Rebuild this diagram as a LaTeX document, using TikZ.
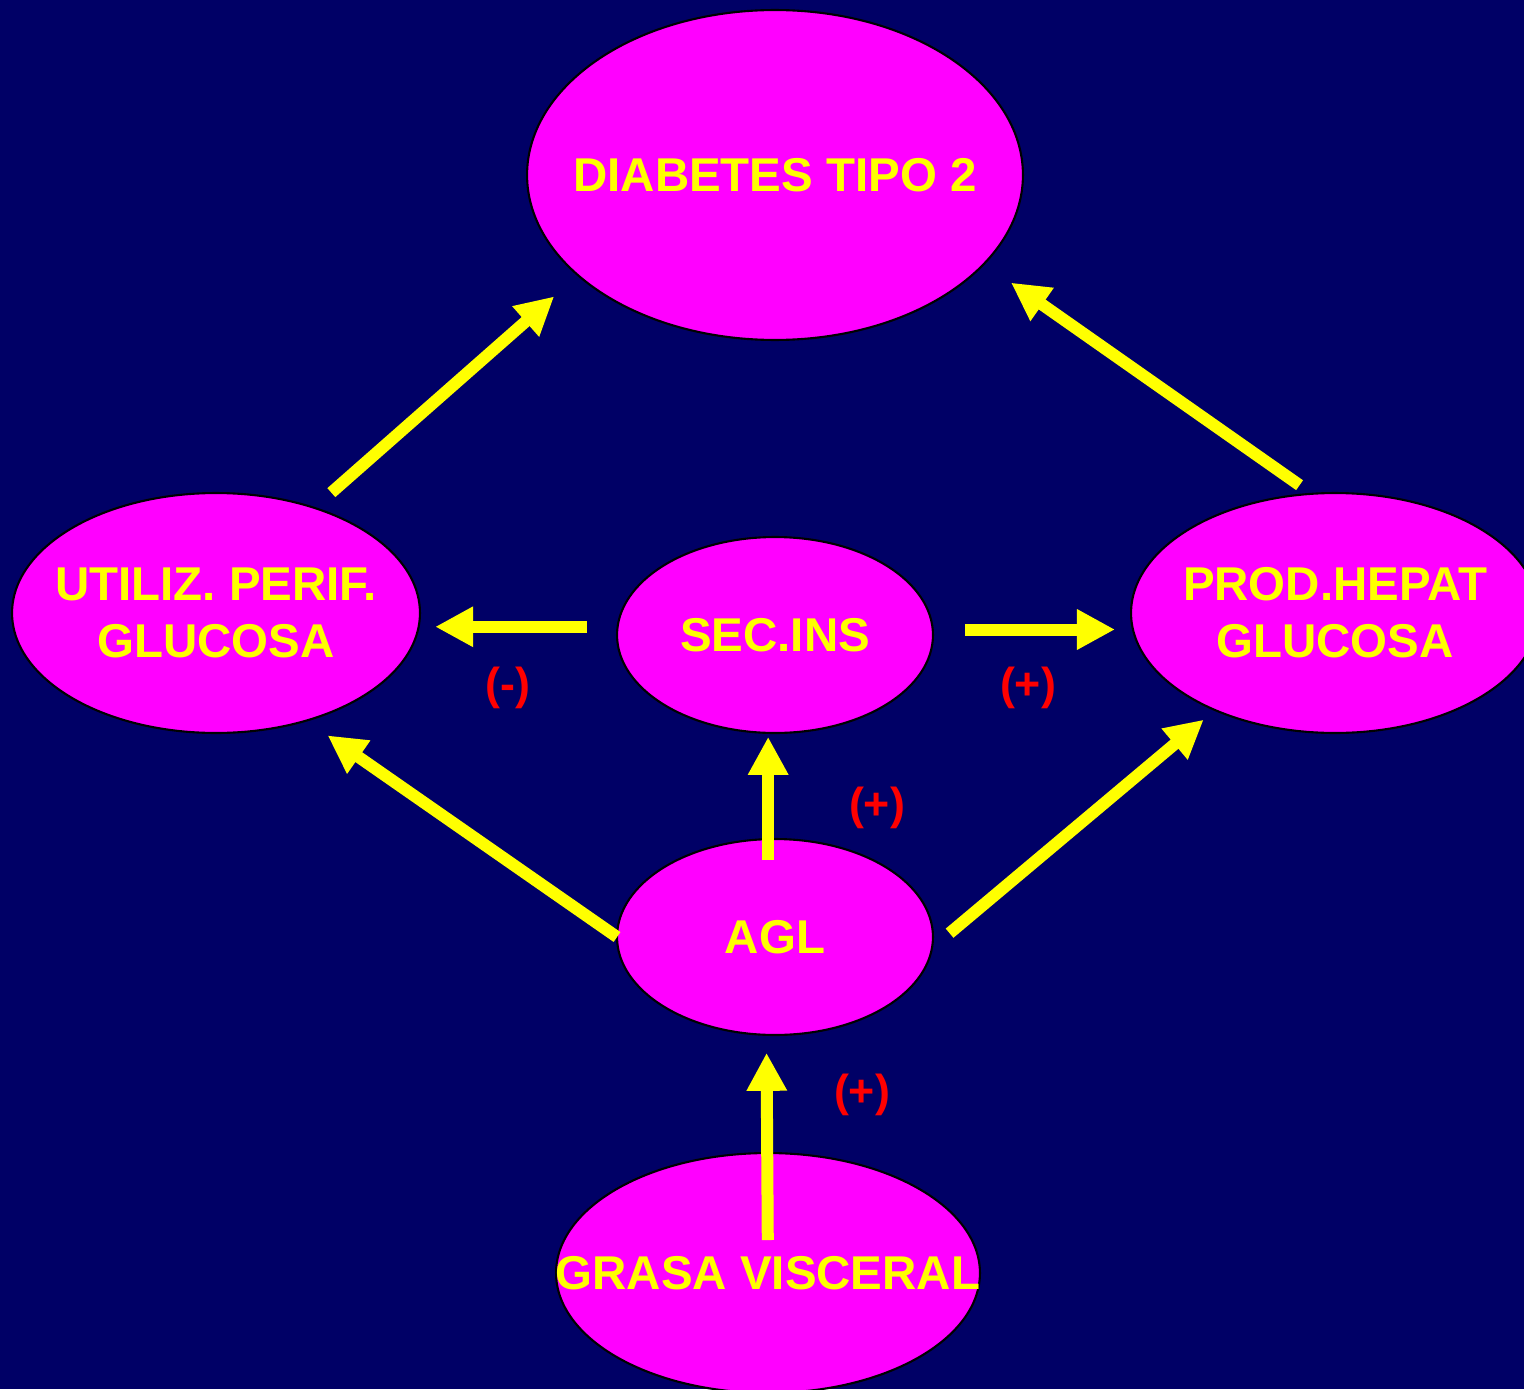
\documentclass[tikz,border=0pt]{standalone}
\usepackage{fontspec}
\setmainfont{Liberation Sans}
\usetikzlibrary{shapes.geometric,arrows.meta}

\begin{document}
\begin{tikzpicture}[x=0.02cm,y=-0.02cm,
  blob/.style={ellipse,draw=black,line width=1.2pt,fill=blobpink,inner sep=0pt,outer sep=0pt},
  every label/.style={text=textyellow,align=center,font=\bfseries\fontsize{27pt}{32.4pt}\selectfont},
  arr/.style={-{Triangle[length=0.76cm,width=0.76cm]},line width=0.24cm,draw=textyellow},
  sign/.style={text=signred,font=\bfseries\fontsize{25.5pt}{30pt}\selectfont}]
\definecolor{navy}{HTML}{000066}
\definecolor{blobpink}{HTML}{FF00FF}
\definecolor{textyellow}{HTML}{FFFF00}
\definecolor{signred}{HTML}{FF0000}
\useasboundingbox (0,0) rectangle (1524,1389);
\fill[navy] (0,0) rectangle (1524,1389);

% ellipses
\node [blob,minimum width=9.92cm,minimum height=6.6cm,label=center:{DIABETES TIPO 2}] (diab) at (775,175) {};
\node [blob,minimum width=8.16cm,minimum height=4.8cm,label=center:{UTILIZ. PERIF.\\GLUCOSA}] (util) at (216,613) {};
\node [blob,minimum width=6.32cm,minimum height=3.92cm,label=center:{SEC.INS}] (sec) at (775,635) {};
\node [blob,minimum width=8.16cm,minimum height=4.8cm,label=center:{PROD.HEPAT\\GLUCOSA}] (prod) at (1335,613) {};
\node [blob,minimum width=6.32cm,minimum height=3.92cm,label=center:{AGL}] (agl) at (775,937) {};
\node [blob,minimum width=8.48cm,minimum height=4.8cm,label=center:{GRASA VISCERAL}] (grasa) at (768,1273) {};

% arrows
\draw[arr,shorten <=0.46cm,shorten >=0.64cm] (util.47.6) -- (diab.207.3);
\draw[arr,shorten <=0.30cm,shorten >=0.66cm] (prod.101.6) -- (diab.337.3);
\draw[arr,shorten <=0.61cm,shorten >=0.35cm] (sec.177.5) -- (util.355.8 |- sec.177.5);
\draw[arr,shorten <=0.65cm,shorten >=0.35cm] (sec.2.5) -- (prod.184.2 |- sec.2.5);
\draw[arr,shorten <=1.54cm,shorten >=0.08cm] (sec.266.5 |- agl.center) -- (sec.266.5);
\draw[arr,shorten >=0.52cm] (agl.west) -- (util.310.9);
\draw[arr,shorten <=0.46cm,shorten >=0.30cm] (agl.356.5) -- (prod.219.4);
\draw[arr,shorten <=0.66cm,shorten >=0.36cm] (grasa.center) -- (agl.265.9);

% signs
\foreach \nm/\px/\py/\sg in {minus/508/688/-,plusr/1028/688/+,plusm/877/808/+,plusb/862/1095/+}
  { \node [sign] (\nm) at (\px,\py) {(\sg)}; }
\end{tikzpicture}
\end{document}
